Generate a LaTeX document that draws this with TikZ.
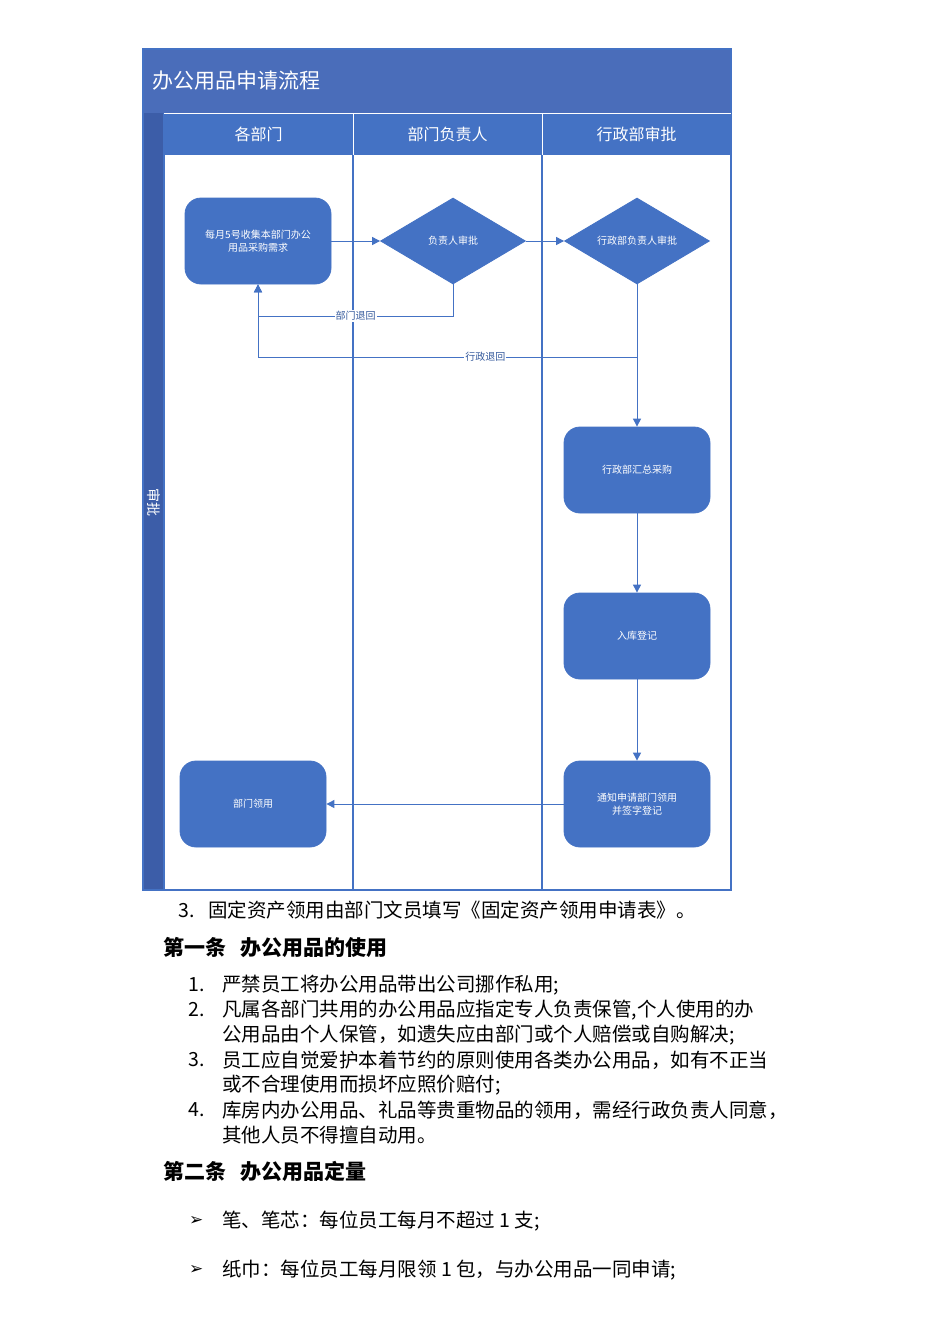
\documentclass[tikz,border=0pt]{standalone}
\usepackage{fontspec}
\setmainfont{Noto Sans CJK SC}
\newfontfamily\sym{DejaVu Sans}
\usetikzlibrary{shapes.geometric,arrows.meta}
\definecolor{fb}{HTML}{4472C4}
\definecolor{tb}{HTML}{4A6DBA}
\definecolor{sb}{HTML}{3C5DA8}
\definecolor{ln}{HTML}{4472C4}
\tikzset{
 procbox/.style={draw=ln,fill=fb,rounded corners=16pt,minimum width=146pt,minimum height=86pt,text=white,font=\fontsize{10}{13}\selectfont,align=center,line width=0.8pt},
 decbox/.style={diamond,draw=ln,fill=fb,minimum width=145pt,minimum height=86pt,aspect=1.7,inner sep=0pt,text=white,font=\fontsize{10}{13}\selectfont,line width=0.8pt},
 flow/.style={draw=ln,line width=1pt,-{Triangle[length=8pt,width=8pt]}},
 lbl/.style={fill=white,inner sep=1pt,text=ln!80!black,font=\fontsize{10}{12}\selectfont},
 body/.style={anchor=west,font=\fontsize{19.5}{24}\selectfont,inner sep=0pt},
 head/.style={anchor=west,font=\fontsize{21}{24}\selectfont\bfseries,inner sep=0pt},
}
\begin{document}
\begin{tikzpicture}[x=1pt,y=-1pt]
\useasboundingbox (0,0) rectangle (950,1344);
\fill[white] (0,0) rectangle (950,1344);
% frame
\fill[tb] (143,49) rectangle (731,113);
\fill[sb] (143,113) rectangle (164,890);
\fill[fb] (164,113) rectangle (731,155);
\draw[ln,line width=1.2pt] (143,49) rectangle (731,890);
\foreach \x in {164,353,542} \draw[ln,line width=1.2pt] (\x,113) -- (\x,890);
\draw[white,line width=0.8pt] (164,113) -- (731,113);
\foreach \x in {353,542} \draw[white,line width=0.8pt] (\x,113) -- (\x,155);
\node[anchor=west,text=white,font=\fontsize{21}{24}\selectfont] (title) at (149,81) {办公用品申请流程};
\node[text=white,font=\fontsize{16}{18}\selectfont] (h1) at (258.5,134) {各部门};
\node[text=white,font=\fontsize{16}{18}\selectfont] (h2) at (447.5,134) {部门负责人};
\node[text=white,font=\fontsize{16}{18}\selectfont] (h3) at (636.5,134) {行政部审批};
\node[text=white,rotate=-90,font=\fontsize{14}{16}\selectfont] (side) at (153.5,502) {审批};
% nodes
\node[procbox] (a) at (258,241) {每月5号收集本部门办公\\用品采购需求};
\node[decbox] (b) at (453,241) {负责人审批};
\node[decbox] (c) at (637,241) {行政部负责人审批};
\node[procbox] (d) at (637,470) {行政部汇总采购};
\node[procbox] (e) at (637,636) {入库登记};
\node[procbox] (f) at (637,804) {通知申请部门领用\\并签字登记};
\node[procbox] (g) at (253,804) {部门领用};
\draw[flow] (a) -- (b);
\draw[flow] (b) -- (c);
\draw[flow] (c) -- (d);
\draw[flow] (d) -- (e);
\draw[flow] (e) -- (f);
\draw[flow] (f) -- (g);
\draw[flow] (b.south) |- (258,316) node[lbl,pos=0.75] {部门退回} -- (a.south);
\draw[flow] (c.south) |- (258,357) node[lbl,pos=0.7] {行政退回} -- (a.south);
% text
\node[body] (t0) at (178,910) {3.\hspace{14pt}固定资产领用由部门文员填写《固定资产领用申请表》。};
\node[head] (s1) at (163,947) {第一条\hspace{14pt}办公用品的使用};
\node[body] (n1) at (188,985) {1.};
\node[body] (l1) at (222,985) {严禁员工将办公用品带出公司挪作私用;};
\node[body] (n2) at (188,1010) {2.};
\node[body] (l2) at (222,1010) {凡属各部门共用的办公用品应指定专人负责保管,个人使用的办};
\node[body] (l2b) at (222,1035) {公用品由个人保管，如遗失应由部门或个人赔偿或自购解决;};
\node[body] (n3) at (188,1060) {3.};
\node[body] (l3) at (222,1060) {员工应自觉爱护本着节约的原则使用各类办公用品，如有不正当};
\node[body] (l3b) at (222,1085) {或不合理使用而损坏应照价赔付;};
\node[body] (n4) at (188,1110) {4.};
\node[body] (l4) at (222,1110) {库房内办公用品、礼品等贵重物品的领用，需经行政负责人同意，};
\node[body] (l4b) at (222,1135) {其他人员不得擅自动用。};
\node[head] (s2) at (163,1171) {第二条\hspace{14pt}办公用品定量};
\node[body,font=\sym\fontsize{17}{20}\selectfont] (b1) at (189,1221) {➢};
\node[body] (p1) at (222,1221) {笔、笔芯：每位员工每月不超过 1 支;};
\node[body,font=\sym\fontsize{17}{20}\selectfont] (b2) at (189,1270) {➢};
\node[body] (p2) at (222,1270) {纸巾：每位员工每月限领 1 包，与办公用品一同申请;};
\end{tikzpicture}
\end{document}
